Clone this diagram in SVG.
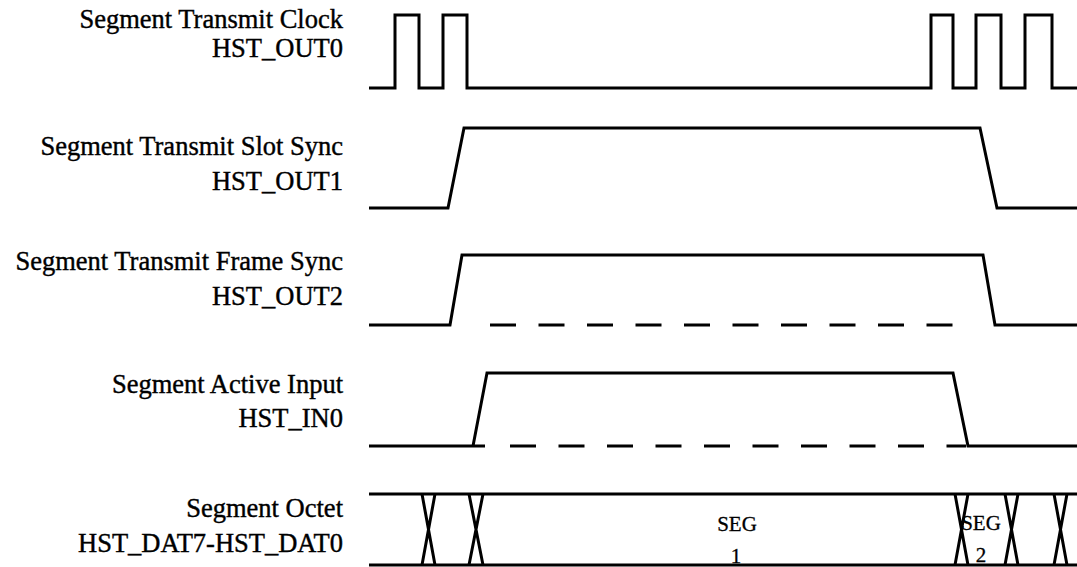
<svg xmlns="http://www.w3.org/2000/svg" width="1077" height="567" viewBox="0 0 1077 567">
<style>
.lbl{font-family:"Liberation Serif","Times New Roman",serif;font-size:26.5px;fill:#000;stroke:#000;stroke-width:0.4;text-anchor:end}
.seg{font-family:"Liberation Serif","Times New Roman",serif;font-size:21px;fill:#000;stroke:#000;stroke-width:0.3;text-anchor:middle}
.w{fill:none;stroke:#000;stroke-width:3;stroke-linejoin:miter}
.d{fill:none;stroke:#000;stroke-width:3;stroke-dasharray:26 22.5}
</style>
<rect width="1077" height="567" fill="#fff"/>
<g id="labels">
<text class="lbl" x="343" y="28">Segment Transmit Clock</text>
<text class="lbl" x="343" y="57">HST_OUT0</text>
<text class="lbl" x="343" y="155">Segment Transmit Slot Sync</text>
<text class="lbl" x="343" y="190">HST_OUT1</text>
<text class="lbl" x="343" y="270">Segment Transmit Frame Sync</text>
<text class="lbl" x="343" y="305">HST_OUT2</text>
<text class="lbl" x="343" y="393">Segment Active Input</text>
<text class="lbl" x="343" y="427">HST_IN0</text>
<text class="lbl" x="343" y="517">Segment Octet</text>
<text class="lbl" x="343" y="552">HST_DAT7-HST_DAT0</text>
</g>
<g id="clock">
<path class="w" d="M369,88 H395 V15 H419 V88 H443 V15 H467 V88 H931 V15 H953 V88 H976 V15 H1001 V88 H1025 V15 H1052 V88 H1077"/>
</g>
<g id="slot-sync">
<path class="w" d="M369,208 H448 L464,128 H980 L997,208 H1077"/>
</g>
<g id="frame-sync">
<path class="w" d="M369,325 H450 L462,255 H983 L995,325 H1077"/>
<path class="d" d="M490,325 H975"/>
</g>
<g id="active-input">
<path class="w" d="M369,446 H485 M473,446 L487,373 H953 L968,446 H1077"/>
<path class="d" d="M510,446 H966"/>
</g>
<g id="octet">
<path class="w" d="M369,494 H1077 M369,565 H1077"/>
<path class="w" d="M422,494 L435,565 M435,494 L422,565 M469,494 L483,565 M483,494 L469,565 M955,494 L968,565 M968,494 L955,565 M1005,494 L1018,565 M1018,494 L1005,565 M1054,494 L1067,565 M1067,494 L1054,565"/>
<text class="seg" x="737" y="531">SEG</text>
<text class="seg" x="736" y="563">1</text>
<text class="seg" x="981" y="530">SEG</text>
<text class="seg" x="981" y="562">2</text>
</g>
</svg>
